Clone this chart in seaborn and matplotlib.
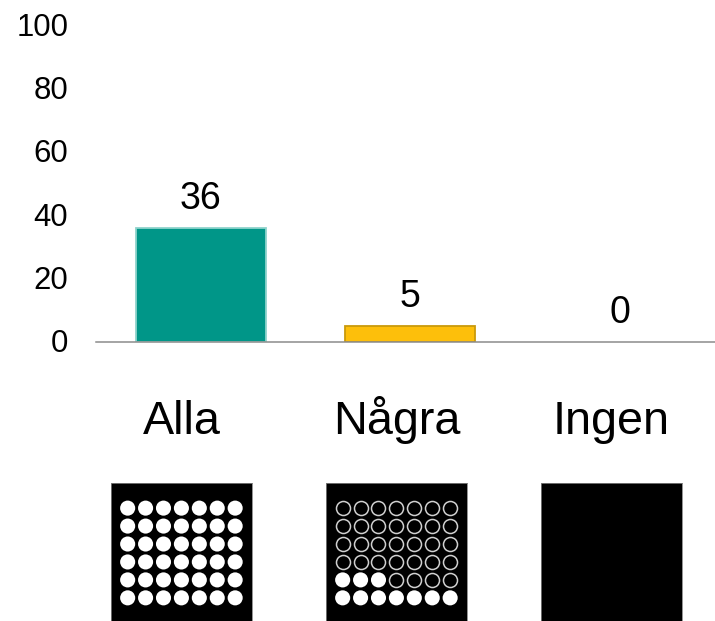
import numpy as np
import pandas as pd
import matplotlib
matplotlib.use('Agg')
import matplotlib.pyplot as plt
from matplotlib.transforms import ScaledTranslation
import seaborn as sns

categories = ['Alla', 'Några', 'Ingen']
values = [36, 5, 0]
y_ticks = [0, 20, 40, 60, 80, 100]
bar_colors = ['#009688', '#FDBF0B', '#FFFFFF']
bar_edges = ['#8FD3CC', '#C99A0B', '#FFFFFF']

# dot panels under the bars: 7 x 6 grid, filled from the bottom row
grid_cols = 7
grid_rows = 6
filled_dots = [42, 10, 0]
show_dots = [True, True, False]

W, H = 715, 621

sns.set_theme(style='white')
plt.rcParams['font.family'] = ['Liberation Sans', 'DejaVu Sans']

fig = plt.figure(figsize=(W / 100, H / 100), dpi=100)

# --- bar chart ---
ax = fig.add_axes([96 / W, 1 - 342 / H, (715 - 96) / W, 317 / H])
bar_df = pd.DataFrame({'category': categories, 'value': values})
sns.barplot(data=bar_df, x='category', y='value', hue='category', palette=bar_colors,
            width=0.622, saturation=1, legend=False, ax=ax)
for container, edge in zip(ax.containers, bar_edges):
    for patch in container:
        patch.set_edgecolor(edge)
        patch.set_linewidth(1.3)
    ax.bar_label(container, fontsize=27, padding=8, color='black')

ax.set_xlim(-0.5, 2.455)
ax.set_ylim(0, 100)
ax.set_yticks(y_ticks)
ax.set_xticks([])
ax.set_xlabel('')
ax.set_ylabel('')
ax.tick_params(axis='y', length=0, pad=20, labelsize=22.4, labelcolor='black')
nudge = ScaledTranslation(0, 1 / 100, fig.dpi_scale_trans)
for label in ax.get_yticklabels():
    label.set_transform(label.get_transform() + nudge)
for side in ['top', 'right', 'left']:
    ax.spines[side].set_visible(False)
ax.spines['bottom'].set_color('#8C8C8C')
ax.spines['bottom'].set_linewidth(1.1)
for t in ax.texts:
    t.set_clip_on(False)

# --- dot panels ---
panel_lefts = [111, 326, 541]
for left, name, n_filled, show in zip(panel_lefts, categories, filled_dots, show_dots):
    pax = fig.add_axes([left / W, 0, 141 / W, 138 / H])
    pax.set_facecolor('black')
    pax.set_xlim(-0.93, 6.94)
    pax.set_ylim(6.29, -1.4)
    pax.set_xticks([])
    pax.set_yticks([])
    for s in pax.spines.values():
        s.set_color('#808080')
        s.set_linewidth(0.6)
    pax.set_title(name, fontsize=33.7, pad=35.5, color='black')
    if show:
        cols, rows = np.meshgrid(np.arange(grid_cols), np.arange(grid_rows))
        dots = pd.DataFrame({'col': cols.ravel(), 'row': rows.ravel()})
        # count filled dots from bottom left
        order = (grid_rows - 1 - dots['row']) * grid_cols + dots['col']
        dots['filled'] = order < n_filled
        sns.scatterplot(data=dots[dots['filled']], x='col', y='row', s=118, color='white',
                        edgecolor='none', legend=False, ax=pax)
        sns.scatterplot(data=dots[~dots['filled']], x='col', y='row', s=102, facecolor='black',
                        edgecolor='#D0D0D0', linewidth=1.1, legend=False, ax=pax)
        pax.set_xlabel('')
        pax.set_ylabel('')

fig.savefig('out.png', dpi=100)
